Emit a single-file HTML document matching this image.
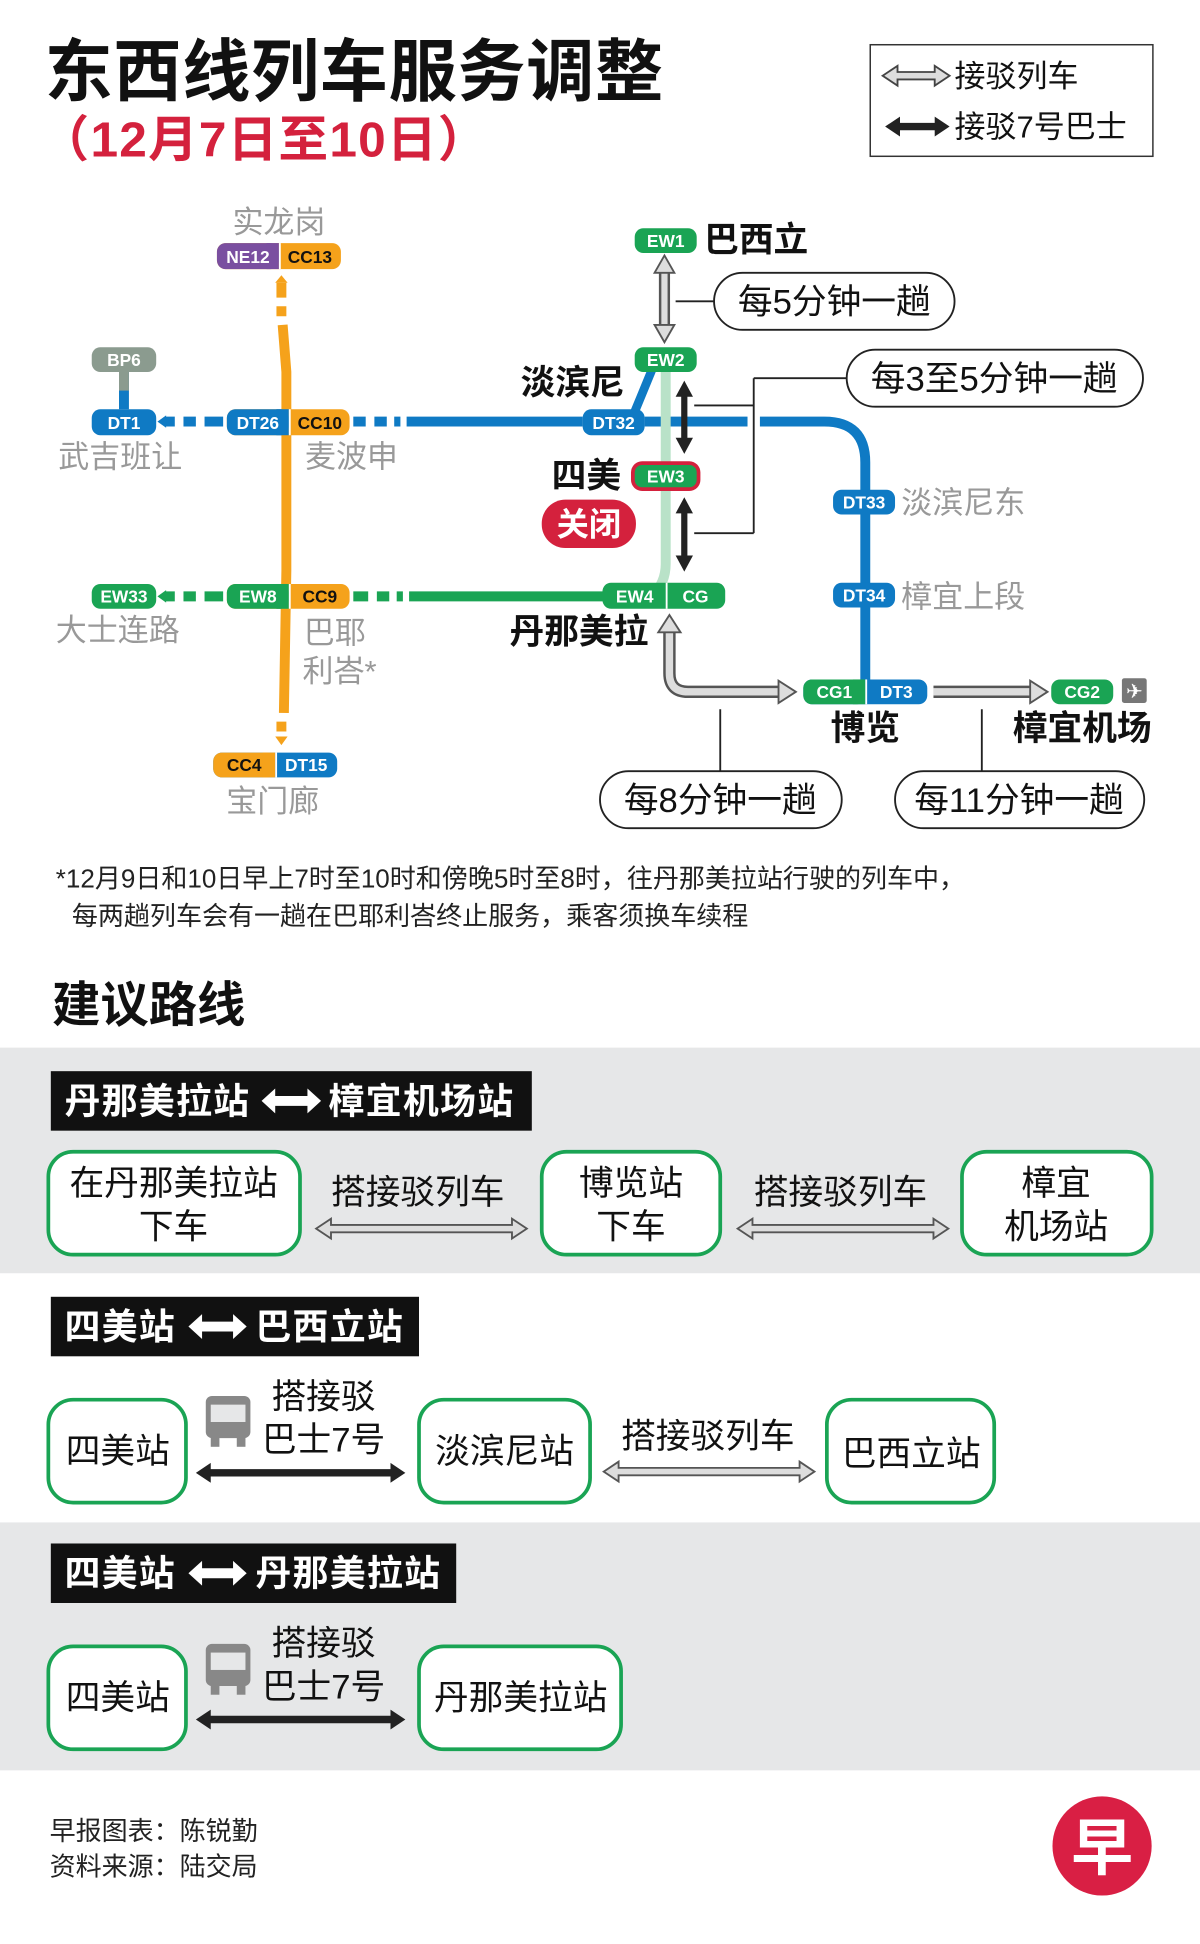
<!DOCTYPE html>
<html><head><meta charset="utf-8"><style>
html,body{margin:0;padding:0;background:#fff;}
svg{display:block;}
text{font-family:"Liberation Sans","Noto Sans CJK SC",sans-serif;}
.b{font-weight:bold;}
.bd{font-family:"Liberation Sans",sans-serif;font-weight:bold;font-size:14px;fill:#fff;}
.g{fill:#999;font-size:25px;}
</style></head><body>
<svg width="1200" height="1944" viewBox="0 0 968 1568" xmlns="http://www.w3.org/2000/svg">
<rect width="968" height="1568" fill="#fff"/>
<!-- Title -->
<text x="36" y="77" font-size="55" class="b" fill="#111" letter-spacing="0.5">东西线列车服务调整</text>
<text x="32" y="126" font-size="40" class="b" fill="#d4213d" letter-spacing="1">（12月7日至10日）</text>
<!-- Legend -->
<rect x="702" y="36" width="228" height="90" fill="#fff" stroke="#333" stroke-width="1.2"/>
<polygon points="712,61 724,53 724,58 754,58 754,53 766,61 754,69 754,64 724,64 724,69" fill="#ddd" stroke="#444" stroke-width="1.5"/>
<text x="770" y="70" font-size="25" fill="#111">接驳列车</text>
<polygon points="714,102 726,94 726,99 754,99 754,94 766,102 754,110 754,105 726,105 726,110" fill="#222"/>
<text x="770" y="111" font-size="25" fill="#111">接驳7号巴士</text>

<!-- Map lines -->
<g stroke-linecap="butt">
<path d="M227 228 V240 M227 247 V255 M228 262 L231 300 V460 L229 575 M227 582 V590" stroke="#f5a21b" stroke-width="8" fill="none"/>
<polygon points="222,228 227,222 232,228" fill="#f5a21b"/>
<polygon points="222,594 232,594 227,601" fill="#f5a21b"/>
<path d="M133 340 H141 M148 340 H158 M165 340 H180" stroke="#0f7ac4" stroke-width="8"/>
<polygon points="127,340 134,335 134,345" fill="#0f7ac4"/>
<path d="M285 340 H295 M302 340 H312 M318 340 H323" stroke="#0f7ac4" stroke-width="8"/>
<path d="M328 340 H470" stroke="#0f7ac4" stroke-width="8"/>
<path d="M520 340 H603 M613 340 H665 Q698 340 698 373 V558" stroke="#0f7ac4" stroke-width="8" fill="none"/>
<path d="M100 300 V330" stroke="#0f7ac4" stroke-width="8"/>
<path d="M100 300 V315" stroke="#8b9b8f" stroke-width="8"/>
<path d="M133 481 H141 M148 481 H158 M165 481 H180" stroke="#1aa454" stroke-width="8"/>
<polygon points="127,481 134,476 134,486" fill="#1aa454"/>
<path d="M285 481 H297 M304 481 H314 M320 481 H325" stroke="#1aa454" stroke-width="8"/>
<path d="M330 481 H490" stroke="#1aa454" stroke-width="8"/>
<path d="M537 300 V455 Q537 470 526 481" stroke="#b9e2c8" stroke-width="8" fill="none"/>
<path d="M526 298 L512 332" stroke="#0f7ac4" stroke-width="7"/>
</g>

<g stroke="#222" stroke-width="1.5" fill="none">
<path d="M545 243 H576"/>
<path d="M560 327 H608 M560 430 H608 M608 305 V430 M608 305 H683"/>
<path d="M581 572 V622 M792 572 V622"/>
</g>

<path d="M536 219 V263" stroke="#555" stroke-width="9"/>
<path d="M536 219 V263" stroke="#ddd" stroke-width="5"/>
<polygon points="536,206 528,220 544,220" fill="#ddd" stroke="#555" stroke-width="1.5"/>
<polygon points="536,276 528,262 544,262" fill="#ddd" stroke="#555" stroke-width="1.5"/>
<path d="M552 318 V355 M552 412 V450" stroke="#222" stroke-width="5"/>
<polygon points="552,307 545,320 559,320" fill="#222"/>
<polygon points="552,366 545,353 559,353" fill="#222"/>
<polygon points="552,401 545,414 559,414" fill="#222"/>
<polygon points="552,461 545,448 559,448" fill="#222"/>
<path d="M540 509 V543 Q540 558 555 558 H629" stroke="#555" stroke-width="10" fill="none"/>
<path d="M540 509 V543 Q540 558 555 558 H629" stroke="#ddd" stroke-width="6" fill="none"/>
<polygon points="540,496 531,510 549,510" fill="#ddd" stroke="#555" stroke-width="1.5"/>
<polygon points="642,558 628,549 628,567" fill="#ddd" stroke="#555" stroke-width="1.5"/>
<path d="M753 558 H832" stroke="#555" stroke-width="10"/>
<path d="M753 558 H832" stroke="#ddd" stroke-width="6"/>
<polygon points="845,558 831,549 831,567" fill="#ddd" stroke="#555" stroke-width="1.5"/>

<!-- Badges -->
<rect x="175" y="196" width="100" height="21" rx="7" fill="#f5a21b"/>
<rect x="175" y="196" width="50" height="21" rx="7" fill="#7a4fa0"/><rect x="215" y="196" width="10" height="21" fill="#7a4fa0"/>
<rect x="225" y="196" width="1.5" height="21" fill="#fff"/>
<text x="200" y="212" class="bd" text-anchor="middle">NE12</text>
<text x="250" y="212" class="bd" text-anchor="middle" style="fill:#111">CC13</text>
<rect x="74" y="280" width="52" height="20" rx="7" fill="#8b9b8f"/>
<text x="100" y="295" class="bd" text-anchor="middle">BP6</text>
<rect x="74" y="330" width="52" height="21" rx="7" fill="#0f7ac4"/>
<text x="100" y="346" class="bd" text-anchor="middle">DT1</text>
<rect x="183" y="330" width="99" height="21" rx="7" fill="#f5a21b"/>
<rect x="183" y="330" width="50" height="21" rx="7" fill="#0f7ac4"/><rect x="223" y="330" width="10" height="21" fill="#0f7ac4"/>
<rect x="233" y="330" width="1.5" height="21" fill="#fff"/>
<text x="208" y="346" class="bd" text-anchor="middle">DT26</text>
<text x="258" y="346" class="bd" text-anchor="middle" style="fill:#111">CC10</text>
<rect x="74" y="471" width="52" height="20" rx="7" fill="#1aa454"/>
<text x="100" y="486" class="bd" text-anchor="middle">EW33</text>
<rect x="183" y="471" width="99" height="20" rx="7" fill="#f5a21b"/>
<rect x="183" y="471" width="50" height="20" rx="7" fill="#1aa454"/><rect x="223" y="471" width="10" height="20" fill="#1aa454"/>
<rect x="233" y="471" width="1.5" height="20" fill="#fff"/>
<text x="208" y="486" class="bd" text-anchor="middle">EW8</text>
<text x="258" y="486" class="bd" text-anchor="middle" style="fill:#111">CC9</text>
<rect x="172" y="607" width="100" height="20" rx="7" fill="#0f7ac4"/>
<rect x="172" y="607" width="50" height="20" rx="7" fill="#f5a21b"/><rect x="212" y="607" width="10" height="20" fill="#f5a21b"/>
<rect x="222" y="607" width="1.5" height="20" fill="#fff"/>
<text x="197" y="622" class="bd" text-anchor="middle" style="fill:#111">CC4</text>
<text x="247" y="622" class="bd" text-anchor="middle">DT15</text>
<rect x="512" y="184" width="50" height="20" rx="7" fill="#1aa454"/>
<text x="537" y="199" class="bd" text-anchor="middle">EW1</text>
<rect x="512" y="280" width="50" height="20" rx="7" fill="#1aa454"/>
<text x="537" y="295" class="bd" text-anchor="middle">EW2</text>
<rect x="470" y="330" width="50" height="21" rx="7" fill="#0f7ac4"/>
<text x="495" y="346" class="bd" text-anchor="middle">DT32</text>
<rect x="509" y="372" width="56" height="24" rx="9" fill="#d4213d"/>
<rect x="512" y="375" width="50" height="18" rx="6" fill="#1aa454"/>
<text x="537" y="389" class="bd" text-anchor="middle">EW3</text>
<rect x="486" y="470" width="99" height="21" rx="7" fill="#1aa454"/>
<rect x="537" y="470" width="1.5" height="21" fill="#fff"/>
<text x="512" y="486" class="bd" text-anchor="middle">EW4</text>
<text x="561" y="486" class="bd" text-anchor="middle">CG</text>
<rect x="672" y="395" width="50" height="20" rx="7" fill="#0f7ac4"/>
<text x="697" y="410" class="bd" text-anchor="middle">DT33</text>
<rect x="672" y="470" width="50" height="20" rx="7" fill="#0f7ac4"/>
<text x="697" y="485" class="bd" text-anchor="middle">DT34</text>
<rect x="648" y="548" width="100" height="20" rx="7" fill="#0f7ac4"/>
<rect x="648" y="548" width="50" height="20" rx="7" fill="#1aa454"/><rect x="688" y="548" width="10" height="20" fill="#1aa454"/>
<rect x="698" y="548" width="1.5" height="20" fill="#fff"/>
<text x="673" y="563" class="bd" text-anchor="middle">CG1</text>
<text x="723" y="563" class="bd" text-anchor="middle">DT3</text>
<rect x="848" y="548" width="50" height="20" rx="7" fill="#1aa454"/>
<text x="873" y="563" class="bd" text-anchor="middle">CG2</text>
<rect x="905" y="547" width="20" height="20" rx="2" fill="#777"/>
<text x="915" y="563" font-size="16" fill="#fff" text-anchor="middle">✈</text>

<text x="225" y="188" class="g" text-anchor="middle">实龙岗</text>
<text x="47" y="377" class="g">武吉班让</text>
<text x="246" y="377" class="g">麦波申</text>
<text x="45" y="517" class="g">大士连路</text>
<text x="245" y="519" class="g">巴耶</text>
<text x="244" y="550" class="g">利峇*</text>
<text x="220" y="655" class="g" text-anchor="middle">宝门廊</text>
<text x="727" y="414" class="g">淡滨尼东</text>
<text x="727" y="490" class="g">樟宜上段</text>
<text x="568" y="203" font-size="28" class="b" fill="#111">巴西立</text>
<text x="420" y="318" font-size="28" class="b" fill="#111">淡滨尼</text>
<text x="445" y="393" font-size="28" class="b" fill="#111">四美</text>
<rect x="437" y="403" width="76" height="39" rx="19" fill="#d4213d"/>
<text x="475" y="432" font-size="26" class="b" fill="#fff" text-anchor="middle">关闭</text>
<text x="411" y="519" font-size="28" class="b" fill="#111">丹那美拉</text>
<text x="698" y="597" font-size="28" class="b" fill="#111" text-anchor="middle">博览</text>
<text x="873" y="597" font-size="28" class="b" fill="#111" text-anchor="middle">樟宜机场</text>

<g fill="#fff" stroke="#222" stroke-width="1.5">
<rect x="576" y="220" width="194" height="46" rx="23"/>
<rect x="683" y="282" width="239" height="46" rx="23"/>
<rect x="484" y="622" width="195" height="46" rx="23"/>
<rect x="722" y="622" width="201" height="46" rx="23"/>
</g>
<g font-size="28" fill="#111" text-anchor="middle">
<text x="673" y="253">每5分钟一趟</text>
<text x="802" y="315">每3至5分钟一趟</text>
<text x="581" y="655">每8分钟一趟</text>
<text x="822" y="655">每11分钟一趟</text>
</g>

<text x="45" y="716" font-size="21" fill="#222">*12月9日和10日早上7时至10时和傍晚5时至8时，往丹那美拉站行驶的列车中，</text>
<text x="58" y="746" font-size="21" fill="#222">每两趟列车会有一趟在巴耶利峇终止服务，乘客须换车续程</text>
<text x="42" y="824" font-size="39" class="b" fill="#111">建议路线</text>

<rect x="0" y="845" width="968" height="182" fill="#e6e7e8"/>
<rect x="0" y="1228" width="968" height="200" fill="#e6e7e8"/>

<rect x="41" y="864" width="388" height="48" fill="#111"/>
<text x="52" y="898" font-size="29" class="b" fill="#fff" letter-spacing="1">丹那美拉站</text>
<polygon points="211,888 222,878 222,884 248,884 248,878 259,888 248,898 248,892 222,892 222,898" fill="#fff"/>
<text x="265" y="898" font-size="29" class="b" fill="#fff" letter-spacing="1">樟宜机场站</text>
<g fill="#fff" stroke="#1aa454" stroke-width="3">
<rect x="39" y="929" width="203" height="83" rx="20"/>
<rect x="437" y="929" width="144" height="83" rx="20"/>
<rect x="776" y="929" width="153" height="83" rx="20"/>
<rect x="39" y="1129" width="111" height="83" rx="20"/>
<rect x="338" y="1129" width="138" height="83" rx="20"/>
<rect x="667" y="1129" width="135" height="83" rx="20"/>
<rect x="39" y="1328" width="111" height="83" rx="20"/>
<rect x="338" y="1328" width="163" height="83" rx="20"/>
</g>
<g font-size="28" fill="#111" text-anchor="middle">
<text x="140" y="964">在丹那美拉站</text>
<text x="140" y="999">下车</text>
<text x="509" y="964">博览站</text>
<text x="509" y="999">下车</text>
<text x="852" y="964">樟宜</text>
<text x="852" y="999">机场站</text>
<text x="337" y="971">搭接驳列车</text>
<text x="678" y="971">搭接驳列车</text>
<text x="95" y="1180">四美站</text>
<text x="407" y="1180">淡滨尼站</text>
<text x="735" y="1182">巴西立站</text>
<text x="571" y="1168">搭接驳列车</text>
<text x="261" y="1136">搭接驳</text>
<text x="261" y="1171">巴士7号</text>
<text x="95" y="1379">四美站</text>
<text x="420" y="1379">丹那美拉站</text>
<text x="261" y="1335">搭接驳</text>
<text x="261" y="1370">巴士7号</text>
</g>
<g fill="#ddd" stroke="#555" stroke-width="1.5">
<polygon points="255,991 267,983 267,988 413,988 413,983 425,991 413,999 413,994 267,994 267,999"/>
<polygon points="595,991 607,983 607,988 753,988 753,983 765,991 753,999 753,994 607,994 607,999"/>
<polygon points="487,1187 499,1179 499,1184 645,1184 645,1179 657,1187 645,1195 645,1190 499,1190 499,1195"/>
</g>
<g fill="#222">
<polygon points="158,1188 170,1180 170,1185 315,1185 315,1180 327,1188 315,1196 315,1191 170,1191 170,1196"/>
<polygon points="158,1387 170,1379 170,1384 315,1384 315,1379 327,1387 315,1395 315,1390 170,1390 170,1395"/>
</g>
<rect x="41" y="1046" width="297" height="48" fill="#111"/>
<text x="52" y="1080" font-size="29" class="b" fill="#fff" letter-spacing="1">四美站</text>
<polygon points="152,1070 163,1060 163,1066 188,1066 188,1060 199,1070 188,1080 188,1074 163,1074 163,1080" fill="#fff"/>
<text x="206" y="1080" font-size="29" class="b" fill="#fff" letter-spacing="1">巴西立站</text>
<rect x="41" y="1245" width="327" height="48" fill="#111"/>
<text x="52" y="1279" font-size="29" class="b" fill="#fff" letter-spacing="1">四美站</text>
<polygon points="152,1269 163,1259 163,1265 188,1265 188,1259 199,1269 188,1279 188,1273 163,1273 163,1279" fill="#fff"/>
<text x="206" y="1279" font-size="29" class="b" fill="#fff" letter-spacing="1">丹那美拉站</text>
<g fill="#888">
<rect x="166" y="1126" width="36" height="34" rx="5"/>
<rect x="170" y="1159" width="7" height="8"/><rect x="191" y="1159" width="7" height="8"/>
<rect x="166" y="1326" width="36" height="34" rx="5"/>
<rect x="170" y="1359" width="7" height="8"/><rect x="191" y="1359" width="7" height="8"/>
</g>
<g fill="#e6e7e8"><rect x="170" y="1133" width="28" height="14"/><rect x="170" y="1333" width="28" height="14"/></g>

<text x="40" y="1484" font-size="21" fill="#222">早报图表：陈锐勤</text>
<text x="40" y="1513" font-size="21" fill="#222">资料来源：陆交局</text>
<circle cx="889" cy="1489" r="40" fill="#d91f44"/>
<text x="889" y="1508" font-size="50" class="b" fill="#fff" text-anchor="middle">早</text>
</svg>
</body></html>
